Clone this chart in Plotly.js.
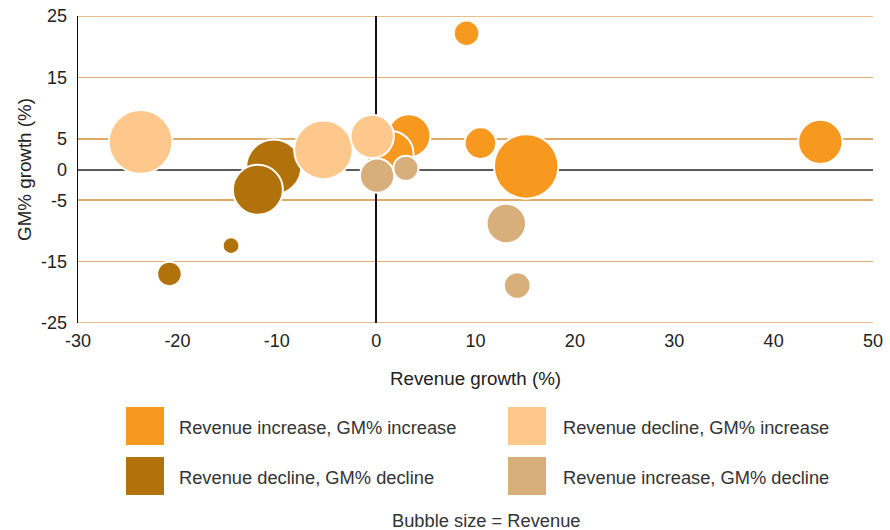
<!DOCTYPE html>
<html>
<head>
<meta charset="utf-8">
<script src="https://cdn.plot.ly/plotly-3.0.1.min.js"></script>
<style>
  html, body { margin: 0; padding: 0; background: #ffffff; }
  #chart { width: 890px; height: 530px; }
</style>
</head>
<body>
<div id="chart"></div>
<script>
// ---- Data ----
const seriesNames = [
  "Revenue increase, GM% increase",
  "Revenue decline, GM% increase",
  "Revenue decline, GM% decline",
  "Revenue increase, GM% decline"
];
const seriesColors = ["#F7991F", "#FEC88C", "#B1720C", "#D8AE7A"];

// Revenue increase, GM% increase
const incIncRevGrowth = [9.1, 3.3, 1.4, 10.5, 15.1, 44.7];
const incIncGmGrowth  = [22.2, 5.5, 2.5, 4.3, 0.5, 4.5];
const incIncRevenue   = [65, 185, 221, 100, 415, 197];

// Revenue decline, GM% increase
const decIncRevGrowth = [-23.7, -5.3, -0.4];
const decIncGmGrowth  = [4.5, 3.2, 5.4];
const decIncRevenue   = [405, 343, 188];

// Revenue decline, GM% decline
const decDecRevGrowth = [-10.3, -11.9, -14.6, -20.8];
const decDecGmGrowth  = [0.4, -3.3, -12.4, -17.0];
const decDecRevenue   = [303, 250, 28, 60];

// Revenue increase, GM% decline
const incDecRevGrowth = [0.1, 3.0, 13.1, 14.2];
const incDecGmGrowth  = [-1.0, 0.2, -8.8, -18.9];
const incDecRevenue   = [118, 63, 155, 71];

const xTicks = [-30, -20, -10, 0, 10, 20, 30, 40, 50];
const yTicks = [25, 15, 5, 0, -5, -15, -25];

const xTitle = "Revenue growth (%)";
const yTitle = "GM% growth (%)";
const sizeNote = "Bubble size = Revenue";

// ---- Chart ----
const FONT = "'Liberation Sans', Arial, Helvetica, sans-serif";
const W = 890, H = 530;
const M = { l: 78, r: 17, t: 16, b: 207 };
const plotW = W - M.l - M.r, plotH = H - M.t - M.b;
const px2paperX = p => (p - M.l) / plotW;
const px2paperY = p => (H - M.b - p) / plotH;
const GRID = "#E2AA66";

function bubbleTrace(xs, ys, rev, idx) {
  return {
    type: "scatter",
    mode: "markers",
    name: seriesNames[idx],
    x: xs, y: ys,
    showlegend: false,
    hoverinfo: "x+y+name",
    marker: {
      size: rev,
      sizemode: "area",
      sizeref: 0.2,
      color: seriesColors[idx],
      opacity: 1,
      line: { color: "#ffffff", width: 2 }
    }
  };
}

// drawing order controls overlap (later on top)
const traces = [
  bubbleTrace(decDecRevGrowth, decDecGmGrowth, decDecRevenue, 2),
  bubbleTrace(incIncRevGrowth, incIncGmGrowth, incIncRevenue, 0),
  bubbleTrace(decIncRevGrowth, decIncGmGrowth, decIncRevenue, 1),
  bubbleTrace(incDecRevGrowth, incDecGmGrowth, incDecRevenue, 3)
];

// Gridlines at the range ends (Plotly omits grid lines on the plot edges)
const yEnds = [yTicks[0], yTicks[yTicks.length - 1]];
const shapes = yEnds.map(v => ({
  type: "line", xref: "paper", yref: "y",
  x0: 0, x1: 1, y0: v, y1: v,
  line: { color: GRID, width: 1.5 }, layer: "below"
}));

// Manual legend (2 columns x 2 rows) + bubble size note
const legendLayout = [
  { idx: 0, sx: 126, sy: 407, tx: 177, ty: 427 },
  { idx: 1, sx: 508, sy: 407, tx: 561, ty: 427 },
  { idx: 2, sx: 126, sy: 457, tx: 177, ty: 477 },
  { idx: 3, sx: 508, sy: 457, tx: 561, ty: 477 }
];
const SW = 38;
legendLayout.forEach(e => shapes.push({
  type: "rect", xref: "paper", yref: "paper",
  x0: px2paperX(e.sx), x1: px2paperX(e.sx + SW),
  y0: px2paperY(e.sy + SW), y1: px2paperY(e.sy),
  fillcolor: seriesColors[e.idx], line: { width: 0 }, layer: "above"
}));
const annotations = legendLayout.map(e => ({
  xref: "paper", yref: "paper",
  x: px2paperX(e.tx), y: px2paperY(e.ty),
  xanchor: "left", yanchor: "middle",
  text: seriesNames[e.idx], showarrow: false,
  font: { family: FONT, size: 18.3, color: "#333333" }
}));
annotations.push({
  xref: "paper", yref: "paper",
  x: px2paperX(486), y: px2paperY(520),
  xanchor: "center", yanchor: "middle",
  text: sizeNote, showarrow: false,
  font: { family: FONT, size: 18.3, color: "#333333" }
});

const layout = {
  width: W, height: H,
  margin: M,
  paper_bgcolor: "#ffffff",
  plot_bgcolor: "#ffffff",
  font: { family: FONT, size: 18, color: "#222222" },
  showlegend: false,
  xaxis: {
    range: [-30, 50],
    tickvals: xTicks,
    ticktext: xTicks.map(String),
    showgrid: false,
    zeroline: true, zerolinecolor: "#111111", zerolinewidth: 1.3,
    showline: false,
    ticks: "",
    ticklabelstandoff: 5,
    tickfont: { family: FONT, size: 18, color: "#222222" },
    title: { text: xTitle, font: { family: FONT, size: 18.8, color: "#222222" }, standoff: 21 },
    automargin: false,
    fixedrange: true
  },
  yaxis: {
    range: [-25, 25],
    tickvals: yTicks,
    ticktext: yTicks.map(String),
    showgrid: true, gridcolor: GRID, gridwidth: 1.5,
    zeroline: true, zerolinecolor: "#5a5a5a", zerolinewidth: 2,
    showline: true, linecolor: "#111111", linewidth: 1.3,
    ticks: "",
    ticklabelstandoff: 6,
    tickfont: { family: FONT, size: 18, color: "#222222" },
    title: { text: yTitle, font: { family: FONT, size: 18.8, color: "#222222" }, standoff: 4 },
    automargin: false,
    fixedrange: true
  },
  shapes: shapes,
  annotations: annotations
};

Plotly.newPlot("chart", traces, layout, { displayModeBar: false, staticPlot: true });
</script>
</body>
</html>
